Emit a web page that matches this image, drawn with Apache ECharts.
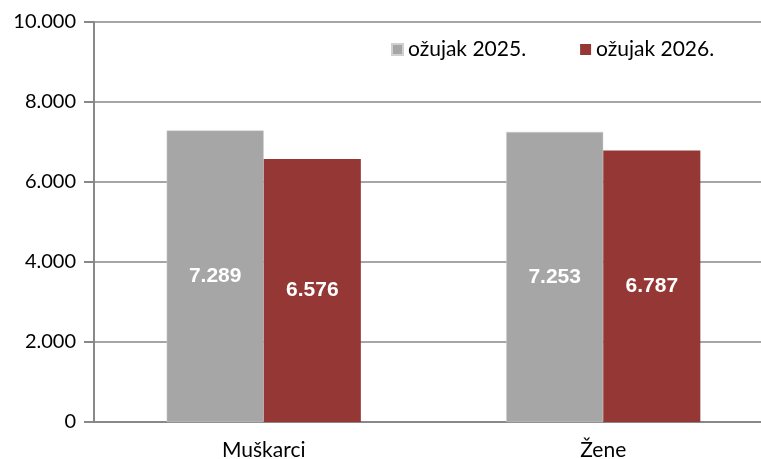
<!DOCTYPE html>
<html>
<head>
<meta charset="utf-8">
<script src="https://cdn.jsdelivr.net/npm/echarts@6/dist/echarts.min.js"></script>
<style>
  html, body { margin: 0; padding: 0; background: #fff; }
  #chart { width: 761px; height: 459px; }
</style>
</head>
<body>
<div id="chart"></div>
<script>
// podaci
const categories = ['Muškarci', 'Žene']
const seriesNames = ['ožujak 2025.', 'ožujak 2026.']
const values2025 = [7289, 7253]
const values2026 = [6576, 6787]
const colors = ['#a6a6a6', '#953735']

const fmt = v => {
  const s = String(Math.round(v))
  return s.replace(/\B(?=(\d{3})+(?!\d))/g, '.')
}

const font = 'Lato, "Open Sans", sans-serif'

const barLabel = {
  show: true,
  position: 'inside',
  color: '#fff',
  fontFamily: '"Liberation Sans", Arial, sans-serif',
  fontWeight: 'bold',
  fontSize: 21,
  formatter: p => fmt(p.value)
}

const chart = echarts.init(document.getElementById('chart'))
chart.setOption({
  animation: false,
  legend: {
    top: 34,
    left: 386,
    itemWidth: 11,
    itemHeight: 11,
    itemGap: 54,
    icon: 'rect',
    textStyle: { fontFamily: font, fontSize: 21, color: '#000' },
    data: seriesNames
  },
  grid: {
    left: 94,
    top: 22,
    right: -12,
    bottom: 37,
    outerBoundsMode: 'none'
  },
  xAxis: {
    type: 'category',
    data: categories,
    axisLine: { lineStyle: { color: '#888', width: 2 } },
    axisTick: { show: false },
    axisLabel: { fontFamily: font, fontSize: 21, color: '#000', margin: 18 }
  },
  yAxis: {
    type: 'value',
    min: 0,
    max: 10000,
    interval: 2000,
    axisLine: { show: true, lineStyle: { color: '#888', width: 2 } },
    axisTick: { show: true, length: 10, lineStyle: { color: '#888', width: 2 } },
    splitLine: { lineStyle: { color: '#888', width: 1.5 } },
    axisLabel: {
      fontFamily: font,
      fontSize: 20,
      color: '#000',
      margin: 18,
      formatter: v => fmt(v)
    }
  },
  series: [
    {
      name: seriesNames[0],
      type: 'bar',
      data: values2025,
      barWidth: '28.6%',
      barGap: '0%',
      itemStyle: { color: colors[0], borderColor: '#d0d0d0', borderWidth: 0.5 },
      label: barLabel
    },
    {
      name: seriesNames[1],
      type: 'bar',
      data: values2026,
      barWidth: '28.6%',
      itemStyle: { color: colors[1] },
      label: barLabel
    }
  ]
})
</script>
</body>
</html>
